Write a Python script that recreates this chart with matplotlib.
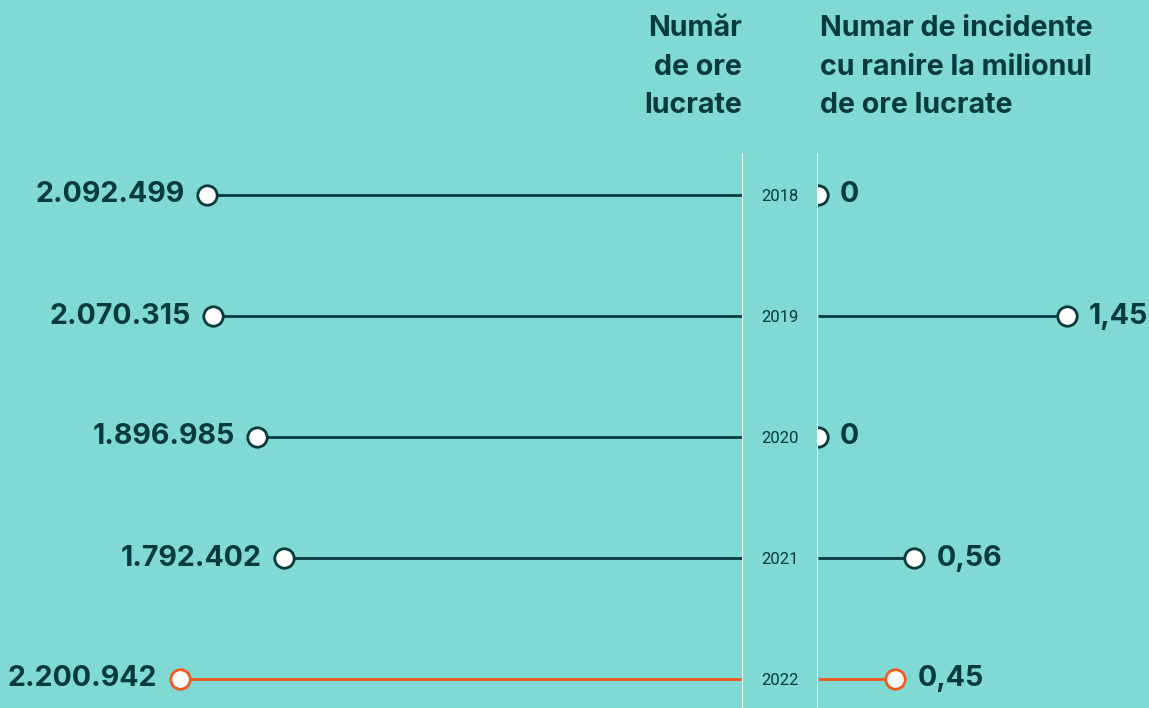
import matplotlib
matplotlib.use("Agg")
import matplotlib.pyplot as plt

years = ["2018", "2019", "2020", "2021", "2022"]
hours = [2092499, 2070315, 1896985, 1792402, 2200942]
hours_labels = ["2.092.499", "2.070.315", "1.896.985", "1.792.402", "2.200.942"]
rate = [0, 1.45, 0, 0.56, 0.45]
rate_labels = ["0", "1,45", "0", "0,56", "0,45"]
highlight = [False, False, False, False, True]

BG = "#81D9D3"
DARK = "#063B3E"
ORANGE = "#F2591C"
FONT = "Inter"

W, H = 1149, 708
fig = plt.figure(figsize=(W / 100, H / 100), dpi=100)
fig.patch.set_facecolor(BG)

top_px, bot_px = 153, 708
def ax_rect(x0, x1):
    return [x0 / W, 1 - bot_px / H, (x1 - x0) / W, (bot_px - top_px) / H]

ylim = (4 + 29 / 121, -42 / 121)

axL = fig.add_axes(ax_rect(0, 742))
axM = fig.add_axes(ax_rect(742, 818))
axR = fig.add_axes(ax_rect(818, W))

for ax in (axL, axM, axR):
    ax.set_facecolor("none")
    ax.set_ylim(*ylim)
    ax.set_xticks([])
    ax.set_yticks([])
    for s in ax.spines.values():
        s.set_visible(False)

axL.set_xlim(742 / 2.5555e-4, 0)
axR.set_xlim(0, 331 / 171.5)
axM.set_xlim(0, 1)

axM.axvline(0, color="white", lw=1.3, zorder=5)
axM.axvline(1, color="white", lw=1.3, zorder=5)

for i, (yr, h, hl, r, rl, hi) in enumerate(zip(years, hours, hours_labels, rate, rate_labels, highlight)):
    c = ORANGE if hi else DARK
    axL.plot([0, h], [i, i], color=c, lw=2.0, solid_capstyle="butt", zorder=2)
    axL.plot([h], [i], marker="o", ms=14, mfc="white", mec=c, mew=2.0, zorder=3)
    axL.annotate(hl, (h, i), xytext=(-16, 0), textcoords="offset points",
                 ha="right", va="center", fontsize=20.6, fontweight="bold",
                 color=DARK, family=FONT, annotation_clip=False)
    axR.plot([0, r], [i, i], color=c, lw=2.0, solid_capstyle="butt", zorder=2)
    axR.plot([r], [i], marker="o", ms=14, mfc="white", mec=c, mew=2.0, zorder=3)
    axR.annotate(rl, (r, i), xytext=(16, 0), textcoords="offset points",
                 ha="left", va="center", fontsize=20.6, fontweight="bold",
                 color=DARK, family=FONT, annotation_clip=False)
    axM.text(0.5, i + 0.01, yr, ha="center", va="center", fontsize=12,
             color=DARK, family="Roboto")

fig.text(742 / W, 1 - 15 / H, "Număr\nde ore\nlucrate", ha="right", va="top",
         fontsize=20.6, fontweight="bold", color=DARK, family=FONT, linespacing=1.55)
fig.text(820 / W, 1 - 15 / H, "Numar de incidente\ncu ranire la milionul\nde ore lucrate",
         ha="left", va="top", fontsize=20.6, fontweight="bold", color=DARK,
         family=FONT, linespacing=1.55)

fig.savefig("out.png", dpi=100, facecolor=BG)
